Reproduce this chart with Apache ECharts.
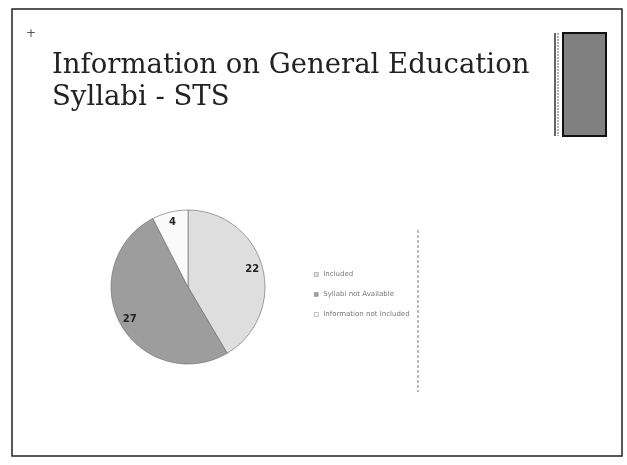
<!DOCTYPE html>
<html>
<head>
<meta charset="utf-8">
<script src="https://cdn.jsdelivr.net/npm/echarts@6/dist/echarts.min.js"></script>
<style>
  html,body{margin:0;padding:0;background:#fff;}
  #main{width:627px;height:465px;}
</style>
</head>
<body>
<div id="main"></div>
<script>
// slide: pie of syllabus info for STS
const categories = ['Included', 'Syllabi not Available', 'Information not Included'];
const values = [22, 27, 4];
const sliceColors = ['#dedede', '#9d9d9d', '#fafafa'];
const titleLines = ['Information on General Education', 'Syllabi - STS'];

const chart = echarts.init(document.getElementById('main'), null, {renderer: 'canvas'});

let pieData = categories.map(function (c, i) {
  return { name: c, value: values[i], itemStyle: { color: sliceColors[i] } };
});

let option = {
  backgroundColor: '#fff',
  animation: false,
  legend: {
    orient: 'vertical',
    left: 309,
    top: 266,
    itemWidth: 4,
    itemHeight: 4,
    itemGap: 13,
    icon: 'rect',
    itemStyle: { borderWidth: 0.5, borderColor: '#888' },
    textStyle: { fontSize: 7, color: '#777', fontFamily: 'DejaVu Sans' },
    data: categories
  },
  graphic: [
    // slide frame
    { type: 'rect', shape: { x: 12, y: 9, width: 610, height: 447 },
      style: { fill: 'none', stroke: '#222', lineWidth: 1.5 } },
    // title
    { type: 'text', left: 52, top: 50,
      style: { text: titleLines.join('\n'), font: 'normal 27.5px "DejaVu Serif"',
               fill: '#222', lineHeight: 32 } },
    // small cross mark
    { type: 'text', left: 26, top: 28,
      style: { text: '+', font: '12px "DejaVu Sans"', fill: '#555' } },
    // decoration top right
    { type: 'rect', shape: { x: 563, y: 33, width: 43, height: 103 },
      style: { fill: '#808080', stroke: '#111', lineWidth: 2 } },
    { type: 'line', shape: { x1: 555, y1: 33, x2: 555, y2: 136 },
      style: { stroke: '#333', lineWidth: 1.5 } },
    { type: 'line', shape: { x1: 558, y1: 33, x2: 558, y2: 136 },
      style: { stroke: '#666', lineWidth: 1, lineDash: [2, 1] } },
    // chart area right border
    { type: 'line', shape: { x1: 418, y1: 230, x2: 418, y2: 392 },
      style: { stroke: '#777', lineWidth: 1, lineDash: [3, 2] } }
  ],
  series: [
    {
      type: 'pie',
      center: [188, 287],
      radius: 77,
      startAngle: 90,
      clockwise: true,
      label: { show: false },
      labelLine: { show: false },
      itemStyle: { borderColor: '#666', borderWidth: 0.6 },
      emphasis: { disabled: true },
      data: pieData
    },
    {
      // transparent ring used only to place the value labels near the rim
      type: 'pie',
      center: [188, 287],
      radius: [50, 77],
      startAngle: 90,
      clockwise: true,
      silent: true,
      legendHoverLink: false,
      itemStyle: { color: 'rgba(0,0,0,0)', borderWidth: 0 },
      label: { show: true, position: 'inside', formatter: '{c}',
               fontSize: 10, fontWeight: 'bold', color: '#222', fontFamily: 'DejaVu Sans' },
      labelLine: { show: false },
      emphasis: { disabled: true },
      data: categories.map(function (c, i) { return { name: c + ' ', value: values[i] }; })
    }
  ]
};
chart.setOption(option);
</script>
</body>
</html>
